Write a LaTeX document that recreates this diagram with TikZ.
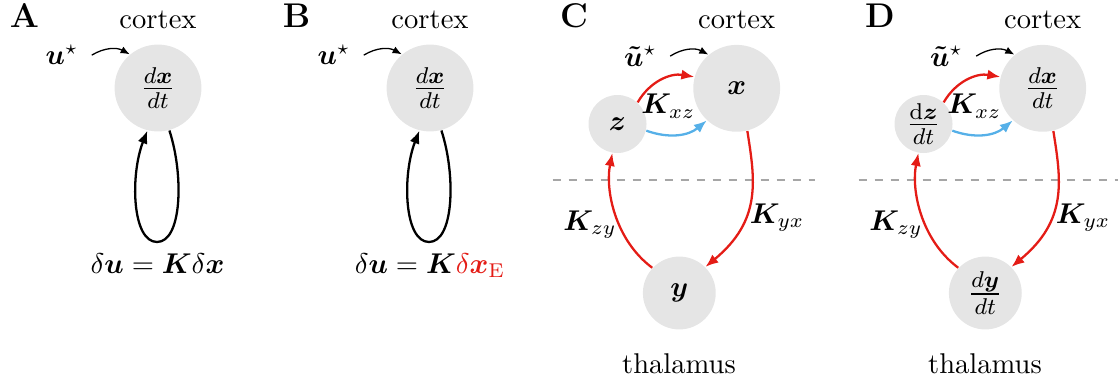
\documentclass[tikz,border=0pt]{standalone}
\usepackage{amsmath,bm}
\usetikzlibrary{arrows.meta}
\definecolor{myred}{RGB}{228,28,22}
\definecolor{myblue}{RGB}{86,176,232}
\tikzset{
  bigc/.style={circle, fill=black!10, minimum size=30.4pt, inner sep=0pt},
  midc/.style={circle, fill=black!10, minimum size=25.5pt, inner sep=0pt},
  smallc/.style={circle, fill=black!10, minimum size=20.3pt, inner sep=0pt},
  fracfont/.style={font=\large},
  panel/.style={anchor=base, font=\large\bfseries, inner sep=0pt},
  region/.style={anchor=base, inner sep=0pt},
  lab/.style={anchor=base, inner sep=0pt},
  ulab/.style={anchor=base, inner sep=0pt},
  fb/.style={line width=0.8pt, -{Latex[length=4.5pt,width=3.6pt]}},
  redarr/.style={fb, draw=myred},
  bluearr/.style={fb, draw=myblue},
  thinarr/.style={line width=0.45pt, -{Latex[length=3.2pt,width=2.6pt]}},
  sepline/.style={draw=black!35, line width=0.5pt, dash pattern=on 2.8pt off 2.8pt}
}
\begin{document}
\begin{tikzpicture}[x=0.35pt, y=0.35pt]
\useasboundingbox (0,0) rectangle (1118,385);

% ---------- Panel A ----------
\node[panel] (labA) at (24.5,357) {A};
\node[region] (ctxA) at (158,356) {cortex};
\node[bigc, fracfont] (xA) at (158,297) {$\frac{d\bm{x}}{dt}$};
\node[ulab] (uA) at (62,320) {$\bm{u}^\star$};
\draw[thinarr] ([xshift=4.5pt]uA.east) to[bend left=30] (xA.130);
\draw[fb] (xA.-75) .. controls (184,210) and (182,143) .. (157,143)
          .. controls (132,143) and (130,210) .. (xA.-104);
\node[lab] (eqA) at (157.5,112) {$\delta\bm{u} = \bm{K}\delta\bm{x}$};

% ---------- Panel B ----------
\begin{scope}[shift={(272,0)}]
\node[panel] (labB) at (24.5,357) {B};
\node[region] (ctxB) at (158,356) {cortex};
\node[bigc, fracfont] (xB) at (158,297) {$\frac{d\bm{x}}{dt}$};
\node[ulab] (uB) at (62,320) {$\bm{u}^\star$};
\draw[thinarr] ([xshift=4.5pt]uB.east) to[bend left=30] (xB.130);
\draw[fb] (xB.-75) .. controls (184,210) and (182,143) .. (157,143)
          .. controls (132,143) and (130,210) .. (xB.-104);
\node[lab] (eqB) at (158,112) {$\delta\bm{u} = \bm{K}{\color{myred}\delta\bm{x}_{\mathrm{E}}}$};
\end{scope}

% ---------- Panel C ----------
\node[panel] (labC) at (574,357) {C};
\node[region] (ctxC) at (736.7,356) {cortex};
\node[bigc] (xC) at (736.7,296.7) {$\bm{x}$};
\node[smallc] (zC) at (617.5,261) {$\bm{z}$};
\node[midc] (yC) at (679.3,92) {$\bm{y}$};
\node[region] (thC) at (679,12) {thalamus};
\node[ulab] (uC) at (640.5,319) {$\bm{\tilde{u}}^\star$};
\draw[thinarr] ([xshift=4.5pt]uC.east) to[bend left=30] (xC.130);
\draw[sepline] (552.7,205) -- (815,205);
\draw[redarr] (zC.47) to[out=60, in=170] (xC.165);
\draw[bluearr] (zC.-13) to[out=-20, in=220] (xC.-133.5);
\draw[redarr] (xC.-76) .. controls (755,205) and (762,165) .. (yC.45);
\draw[redarr] (yC.137) .. controls (615,145) and (605,195) .. (zC.-100);
\node[lab] (kxzC) at (668.3,271) {$\bm{K}_{xz}$};
\node[lab] (kyxC) at (777,162) {$\bm{K}_{yx}$};
\node[lab] (kzyC) at (590,155) {$\bm{K}_{zy}$};

% ---------- Panel D ----------
\begin{scope}[shift={(306,0)}]
\node[panel] (labD) at (574,357) {D};
\node[region] (ctxD) at (736.7,356) {cortex};
\node[bigc, fracfont] (xD) at (736.7,296.7) {$\frac{d\bm{x}}{dt}$};
\node[smallc, fracfont] (zD) at (617.5,261) {$\frac{\mathrm{d}\bm{z}}{dt}$};
\node[midc, fracfont] (yD) at (679.3,92) {$\frac{d\bm{y}}{dt}$};
\node[region] (thD) at (679,12) {thalamus};
\node[ulab] (uD) at (640.5,319) {$\bm{\tilde{u}}^\star$};
\draw[thinarr] ([xshift=4.5pt]uD.east) to[bend left=30] (xD.130);
\draw[sepline] (552.7,205) -- (830,205);
\draw[redarr] (zD.47) to[out=60, in=170] (xD.165);
\draw[bluearr] (zD.-13) to[out=-20, in=220] (xD.-133.5);
\draw[redarr] (xD.-76) .. controls (755,205) and (762,165) .. (yD.45);
\draw[redarr] (yD.137) .. controls (615,145) and (605,195) .. (zD.-100);
\node[lab] (kxzD) at (668.3,271) {$\bm{K}_{xz}$};
\node[lab] (kyxD) at (777,162) {$\bm{K}_{yx}$};
\node[lab] (kzyD) at (590,155) {$\bm{K}_{zy}$};
\end{scope}
\end{tikzpicture}
\end{document}
